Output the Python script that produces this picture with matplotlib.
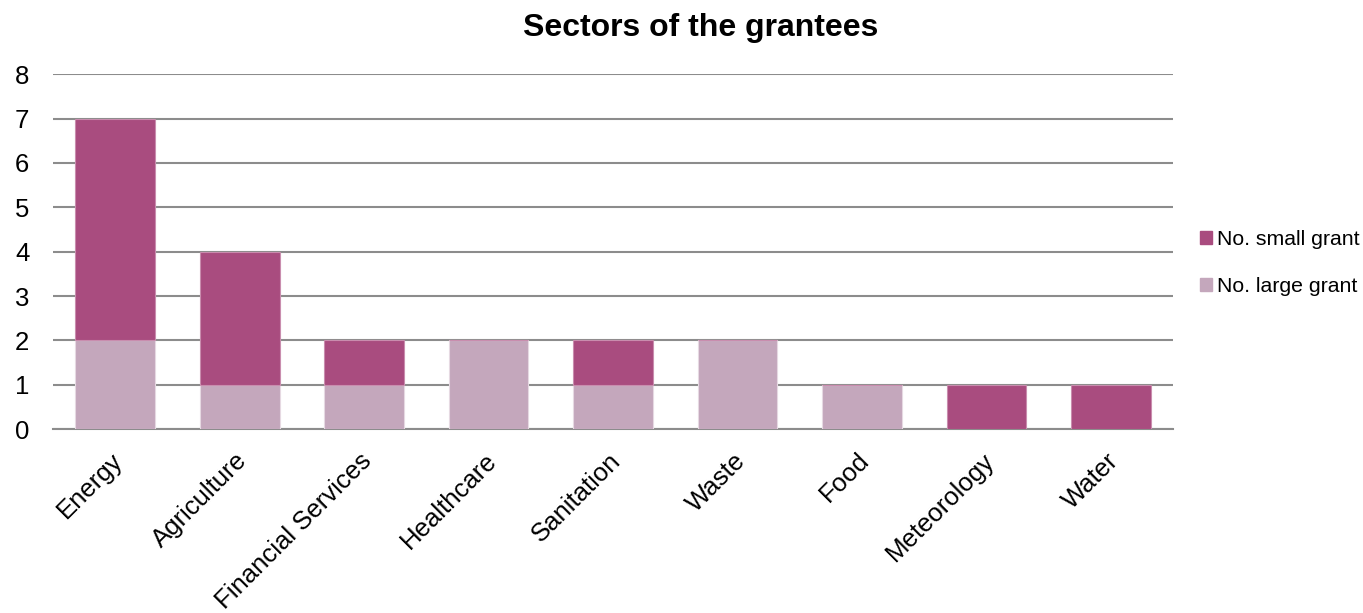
import matplotlib
matplotlib.use("Agg")
import matplotlib.pyplot as plt
from matplotlib.patches import Patch
from matplotlib.transforms import ScaledTranslation

plt.rcParams['font.family'] = ['Liberation Sans', 'DejaVu Sans']

sectors = ["Energy", "Agriculture", "Financial Services", "Healthcare",
           "Sanitation", "Waste", "Food", "Meteorology", "Water"]
large_grant = [2, 1, 1, 2, 1, 2, 1, 0, 0]
small_grant = [5, 3, 1, 0, 1, 0, 0, 1, 1]
y_ticks = [0, 1, 2, 3, 4, 5, 6, 7, 8]

small_color = "#A94C7F"
large_color = "#C4A7BC"

fig = plt.figure(figsize=(13.63, 6.13), dpi=100)
ax = fig.add_axes([0.0389, 0.300, 0.8217, 0.579])

x = list(range(len(sectors)))
ax.bar(x, large_grant, width=0.64, color=large_color,
       edgecolor="#E6D9E2", linewidth=0.8, zorder=3)
ax.bar(x, small_grant, width=0.64, bottom=large_grant, color=small_color,
       edgecolor="#C98DAE", linewidth=0.8, zorder=3)

ax.set_xlim(-0.5, len(sectors) - 0.5)
ax.set_ylim(0, 8)
ax.set_yticks(y_ticks)
ax.set_yticklabels([str(v) for v in y_ticks], fontsize=18.5)
ax.yaxis.grid(True, color="#8C8C8C", linewidth=1.5, zorder=0)
ax.set_axisbelow(True)
for side in ["top", "right", "left"]:
    ax.spines[side].set_visible(False)
ax.spines["bottom"].set_color("#8C8C8C")
ax.spines["bottom"].set_linewidth(1.5)
ax.tick_params(axis="both", length=0)
ax.tick_params(axis="y", pad=17)
ax.tick_params(axis="x", pad=20)

ax.set_xticks(x)
ax.set_xticklabels(sectors, rotation=45, ha="right", va="center",
                   rotation_mode="anchor", fontsize=18.5)
shift = ScaledTranslation(4 / 100, 0, fig.dpi_scale_trans)
for lbl in ax.get_xticklabels():
    lbl.set_transform(lbl.get_transform() + shift)

fig.text(0.514, 0.955, "Sectors of the grantees", fontsize=23,
         fontweight="bold", ha="center", va="center")

handles = [Patch(color=small_color, label="No. small grant"),
           Patch(color=large_color, label="No. large grant")]
fig.legend(handles=handles, loc="center left", bbox_to_anchor=(0.8725, 0.571),
           frameon=False, fontsize=15.3, handlelength=0.55, handleheight=0.55,
           handletextpad=0.25, labelspacing=1.3, borderpad=0)

fig.savefig("out.png", dpi=100)
